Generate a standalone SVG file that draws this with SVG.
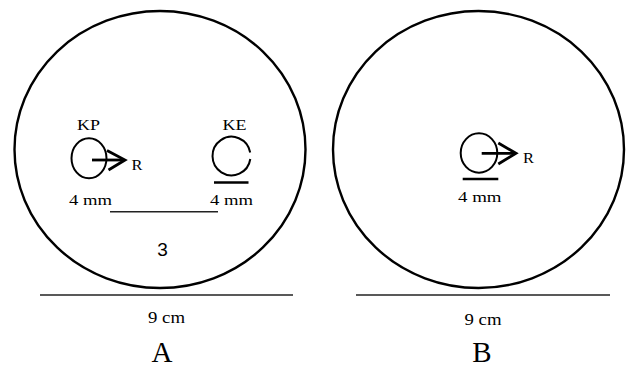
<svg xmlns="http://www.w3.org/2000/svg" width="626" height="368" viewBox="0 0 626 368">
<style>
.big{fill:none;stroke:#000;stroke-width:2.4}
.sm{fill:none;stroke:#000;stroke-width:2}
.rule{stroke:#222;stroke-width:1.6}
.shadow{stroke:#c4c4c4;stroke-width:4;filter:url(#blur)}
.ul{stroke:#000;stroke-width:2.6}
.arr{fill:none;stroke:#000;stroke-width:2.8;stroke-linecap:butt;stroke-linejoin:miter}
.t{font-family:"Liberation Serif","Times New Roman",serif;fill:#000}
.s{font-family:"Liberation Sans",Arial,sans-serif;fill:#000}
</style>
<defs>
<filter id="blur" x="-10%" y="-200%" width="120%" height="500%"><feGaussianBlur stdDeviation="1.8"/></filter>
</defs>
<rect width="626" height="368" fill="#fff"/>
<g id="diskA">
<ellipse class="big" cx="160" cy="149.5" rx="145.5" ry="138.5"/>
<line class="shadow" x1="42" y1="299" x2="291" y2="299"/>
<line class="rule" x1="40" y1="295" x2="293" y2="295"/>
<text class="t" x="166.5" y="323" font-size="16" text-anchor="middle" textLength="37" lengthAdjust="spacingAndGlyphs">9 cm</text>
<text class="t" x="162" y="362" font-size="29" text-anchor="middle">A</text>
</g>
<g id="diskB">
<ellipse class="big" cx="478.5" cy="149.5" rx="145.5" ry="138.5"/>
<line class="shadow" x1="358" y1="299" x2="608" y2="299"/>
<line class="rule" x1="356" y1="295" x2="610" y2="295"/>
<text class="t" x="483" y="325" font-size="16" text-anchor="middle" textLength="37" lengthAdjust="spacingAndGlyphs">9 cm</text>
<text class="t" x="482" y="362" font-size="29" text-anchor="middle">B</text>
</g>
<g id="KP">
<text class="t" x="77" y="130" font-size="15" textLength="23" lengthAdjust="spacingAndGlyphs">KP</text>
<ellipse class="sm" cx="89" cy="158.3" rx="17.5" ry="20"/>
<text class="t" x="69" y="205" font-size="15" textLength="43" lengthAdjust="spacingAndGlyphs">4 mm</text>
</g>
<g id="KE">
<text class="t" x="222.5" y="130" font-size="15" textLength="24" lengthAdjust="spacingAndGlyphs">KE</text>
<path class="sm" d="M250.3,159 A19,19.3 0 1 1 250.2,152.5"/>
<line class="ul" x1="214" y1="182.5" x2="248.5" y2="182.5"/>
<text class="t" x="210" y="205" font-size="15" textLength="43" lengthAdjust="spacingAndGlyphs">4 mm</text>
</g>
<g id="scaleA">
<line class="shadow" x1="112" y1="215" x2="216" y2="215"/>
<line class="rule" x1="110" y1="211.7" x2="218" y2="211.7"/>
<text class="s" x="162.5" y="256" font-size="19" text-anchor="middle">3</text>
</g>
<g id="R_B">
<ellipse class="sm" cx="479" cy="153" rx="18.3" ry="19.7"/>
<line class="ul" x1="462.7" y1="179" x2="498.3" y2="179"/>
<text class="t" x="458" y="201.7" font-size="15" textLength="43.5" lengthAdjust="spacingAndGlyphs">4 mm</text>
<text class="t" x="523" y="163.3" font-size="15" textLength="11" lengthAdjust="spacingAndGlyphs">R</text>
</g>
<g id="R_A">
<text class="t" x="131.5" y="170" font-size="15" textLength="11" lengthAdjust="spacingAndGlyphs">R</text>
</g>
<g id="connectors">
<line class="arr" x1="92" y1="160" x2="124" y2="160"/>
<polyline class="arr" points="107,150.5 125,160 108.5,170"/>
<line class="arr" x1="481.7" y1="153.3" x2="515" y2="153.3"/>
<polyline class="arr" points="498.3,143 516,153.3 498.3,164"/>
</g>
</svg>
